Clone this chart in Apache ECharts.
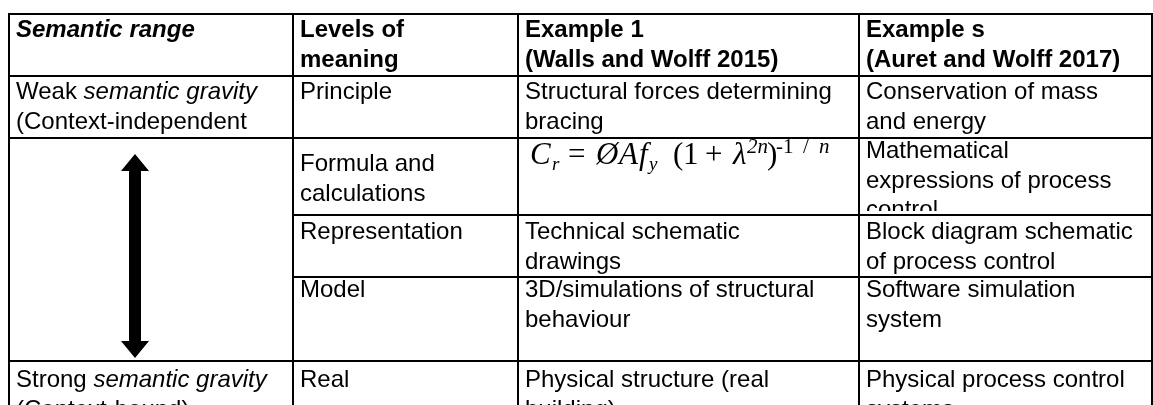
<!DOCTYPE html>
<html>
<head>
<meta charset="utf-8">
<script src="https://cdn.jsdelivr.net/npm/echarts@6/dist/echarts.min.js"></script>
<style>
  html, body { margin: 0; padding: 0; background: #fff; }
  #main { width: 1153px; height: 405px; }
</style>
</head>
<body>
<div id="main"></div>
<script>
// table content
var columnTitles = ['Semantic range', 'Levels of\nmeaning', 'Example 1\n(Walls and Wolff 2015)', 'Example s\n(Auret and Wolff 2017)'];
var gravityEnds = [['Weak ', 'semantic gravity', '(Context-independent'], ['Strong ', 'semantic gravity', '(Context-bound)']];
var levels = ['Principle', 'Formula and\ncalculations', 'Representation', 'Model', 'Real'];
var example1 = ['Structural forces determining\nbracing', '', 'Technical schematic\ndrawings', '3D/simulations of structural\nbehaviour', 'Physical structure (real\nbuilding)'];
var example2 = ['Conservation of mass\nand energy', 'Mathematical\nexpressions of process\ncontrol', 'Block diagram schematic\nof process control', 'Software simulation\nsystem', 'Physical process control\nsystems'];
var formulaText = ['C', 'r', '=', 'Ø', 'A', 'f', 'y', '(', '1', '+', 'λ', '2n', ')', '-1', '/', 'n'];
var formulaKinds = ['it', 'sub', 'rm', 'it', 'it', 'it', 'sub', 'rm', 'rm', 'rm', 'it', 'sup', 'rm', 'supRm', 'supRm', 'sup'];

// layout (page pixels)
var colEdges = [9, 293, 518, 859, 1152];
var rowEdges = [14, 76, 138, 215, 277, 361, 440];
var rowPad = [2, 2, 3, 3, -1, 5];
var padLeft = 7;
var arrow = { x: 135, top: 154, bottom: 358, shaft: 6, head: 14, headLen: 17 };
// box width of each formula piece (pieces are laid left to right)
var formulaBoxes = [22, 16, 28, 23, 20, 10, 24, 10, 22, 28, 14, 20, 9, 27, 16, 14];

var FONT = 'Arial, "Liberation Sans", Helvetica, sans-serif';
var SERIF = '"Times New Roman", "Liberation Serif", serif';

function sans(weight, style) {
  return { fontFamily: FONT, fontSize: 24, lineHeight: 29.5, fontWeight: weight, fontStyle: style };
}
var mathKinds = {
  it: { fontFamily: SERIF, fontStyle: 'italic', fontSize: 31, lineHeight: 31 },
  rm: { fontFamily: SERIF, fontStyle: 'normal', fontSize: 31, lineHeight: 31 },
  sub: { fontFamily: SERIF, fontStyle: 'italic', fontSize: 19, lineHeight: 37, verticalAlign: 'bottom' },
  sup: { fontFamily: SERIF, fontStyle: 'italic', fontSize: 21, lineHeight: 21, verticalAlign: 'top' },
  supRm: { fontFamily: SERIF, fontStyle: 'normal', fontSize: 21, lineHeight: 21, verticalAlign: 'top' }
};

var rich = {
  n: sans('normal', 'normal'),
  b: sans('bold', 'normal'),
  bi: sans('bold', 'italic'),
  i: sans('normal', 'italic')
};
var formulaRich = formulaText.map(function (s, k) {
  rich['f' + k] = Object.assign({}, mathKinds[formulaKinds[k]], { width: formulaBoxes[k] });
  return '{f' + k + '|' + s + '}';
}).join('');

function tag(style, s) {
  return s.split('\n').map(function (l) { return '{' + style + '|' + l + '}'; }).join('\n');
}

var cells = [];
columnTitles.forEach(function (t, c) {
  cells.push({ c: c, r0: 0, r1: 1, text: tag(c === 0 ? 'bi' : 'b', t) });
});
cells.push({ c: 0, r0: 1, r1: 2, text: '{n|' + gravityEnds[0][0] + '}{i|' + gravityEnds[0][1] + '}\n{n|' + gravityEnds[0][2] + '}' });
cells.push({ c: 0, r0: 2, r1: 5, text: '', arrow: true });
cells.push({ c: 0, r0: 5, r1: 6, text: '{n|' + gravityEnds[1][0] + '}{i|' + gravityEnds[1][1] + '}\n{n|' + gravityEnds[1][2] + '}' });
levels.forEach(function (t, i) {
  cells.push({ c: 1, r0: i + 1, r1: i + 2, text: tag('n', t), extra: i === 1 ? 9 : 0 });
});
example1.forEach(function (t, i) {
  cells.push({ c: 2, r0: i + 1, r1: i + 2, text: i === 1 ? formulaRich : tag('n', t), extra: i === 1 ? -4 : 0, dx: i === 1 ? 5 : 0 });
});
example2.forEach(function (t, i) {
  cells.push({ c: 3, r0: i + 1, r1: i + 2, text: tag('n', t), extra: i === 1 ? -4 : 0, clip: i === 1 ? 4 : 0 });
});

var data = cells.map(function (cell, k) {
  return [colEdges[cell.c], rowEdges[cell.r0], colEdges[cell.c + 1], rowEdges[cell.r1], k];
});

function renderCell(params, api) {
  var cell = cells[api.value(4)];
  var p0 = api.coord([api.value(0), api.value(1)]);
  var p1 = api.coord([api.value(2), api.value(3)]);
  var w = p1[0] - p0[0], h = p1[1] - p0[1];
  var pad = rowPad[cell.r0] + (cell.extra || 0);
  var left = padLeft + (cell.dx || 0);
  var children = [{
    type: 'rect',
    shape: { x: p0[0], y: p0[1], width: w, height: h },
    style: { fill: 'none', stroke: '#000', lineWidth: 2 }
  }];
  if (cell.text) {
    children.push({
      type: 'text',
      x: p0[0] + left,
      y: p0[1] + pad,
      style: {
        text: cell.text, rich: rich, fill: '#000',
        fontFamily: FONT, fontSize: 24, lineHeight: 29.5,
        align: 'left', verticalAlign: 'top'
      },
      clipPath: { type: 'rect', shape: { x: -left, y: -pad, width: w, height: h - (cell.clip || 0) } }
    });
  }
  if (cell.arrow) {
    var a = api.coord([arrow.x, arrow.top]), b = api.coord([arrow.x, arrow.bottom]);
    var x = a[0];
    children.push({
      type: 'polygon',
      shape: { points: [
        [x, a[1]], [x + arrow.head, a[1] + arrow.headLen], [x + arrow.shaft, a[1] + arrow.headLen],
        [x + arrow.shaft, b[1] - arrow.headLen], [x + arrow.head, b[1] - arrow.headLen], [x, b[1]],
        [x - arrow.head, b[1] - arrow.headLen], [x - arrow.shaft, b[1] - arrow.headLen],
        [x - arrow.shaft, a[1] + arrow.headLen], [x - arrow.head, a[1] + arrow.headLen]
      ] },
      style: { fill: '#000' }
    });
  }
  return { type: 'group', children: children };
}

var chart = echarts.init(document.getElementById('main'), null, { renderer: 'canvas' });
chart.setOption({
  animation: false,
  backgroundColor: '#fff',
  grid: { left: 0, right: 0, top: 0, bottom: 0 },
  xAxis: { type: 'value', min: 0, max: 1153, show: false },
  yAxis: { type: 'value', min: 0, max: 405, inverse: true, show: false },
  series: [{
    type: 'custom',
    renderItem: renderCell,
    clip: false,
    data: data
  }]
});
</script>
</body>
</html>
